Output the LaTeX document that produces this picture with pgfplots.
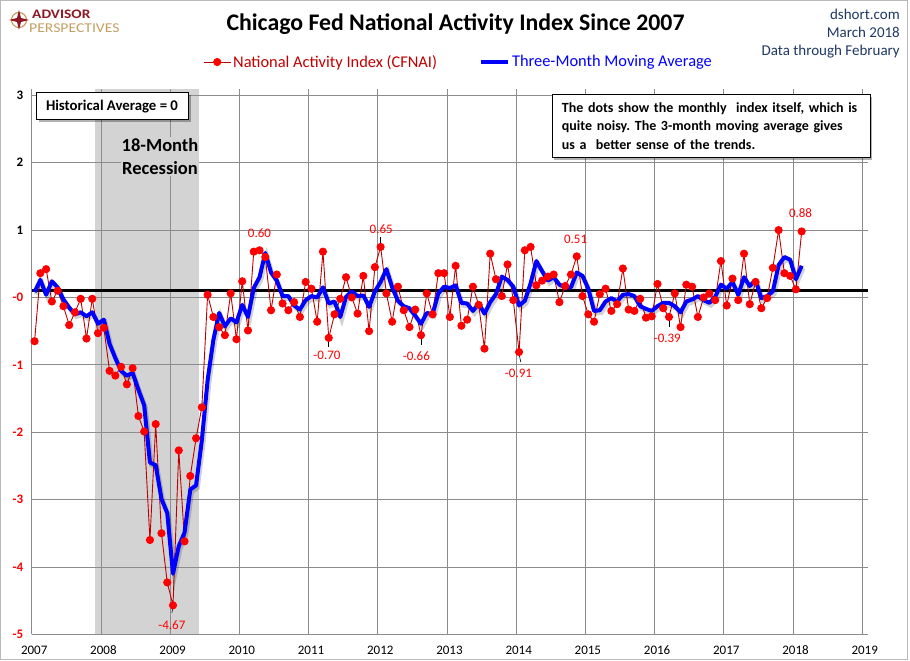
\documentclass[border=0pt]{standalone}
\usepackage{pgfplots}
\pgfplotsset{compat=1.18}
\usepackage{pgfplotstable}
\usepackage{fontspec}
\setmainfont{Carlito}
\usetikzlibrary{shadows}
\frenchspacing
\definecolor{dotred}{RGB}{255,0,0}
\definecolor{linered}{RGB}{192,0,0}
\definecolor{mablue}{RGB}{0,0,255}
\definecolor{recgray}{RGB}{211,211,211}
\definecolor{gridgray}{RGB}{140,140,140}
\definecolor{logored}{RGB}{140,25,35}
\definecolor{logogold}{RGB}{196,160,96}

\pgfplotstableread{
i cfnai ma
0 -0.75 -0.02
1 0.26 0.16
2 0.32 -0.06
3 -0.16 0.14
4 0.00 0.05
5 -0.23 -0.13
6 -0.51 -0.25
7 -0.32 -0.35
8 -0.12 -0.32
9 -0.71 -0.38
10 -0.12 -0.32
11 -0.63 -0.49
12 -0.55 -0.43
13 -1.19 -0.79
14 -1.26 -1.00
15 -1.13 -1.19
16 -1.39 -1.26
17 -1.15 -1.22
18 -1.86 -1.47
19 -2.09 -1.70
20 -3.70 -2.55
21 -1.98 -2.59
22 -3.60 -3.09
23 -4.33 -3.30
24 -4.67 -4.20
25 -2.37 -3.79
26 -3.72 -3.59
27 -2.75 -2.95
28 -2.19 -2.89
29 -1.73 -2.22
30 -0.06 -1.33
31 -0.39 -0.73
32 -0.54 -0.33
33 -0.66 -0.53
34 -0.04 -0.41
35 -0.72 -0.47
36 0.14 -0.21
37 -0.59 -0.39
38 0.58 0.04
39 0.60 0.20
40 0.50 0.56
41 -0.29 0.27
42 0.24 0.15
43 -0.19 -0.08
44 -0.29 -0.08
45 -0.17 -0.22
46 -0.39 -0.28
47 0.13 -0.14
48 0.03 -0.08
49 -0.46 -0.10
50 0.58 0.05
51 -0.70 -0.19
52 -0.35 -0.16
53 -0.12 -0.39
54 0.20 -0.09
55 -0.10 -0.01
56 -0.34 -0.08
57 0.22 -0.07
58 -0.60 -0.24
59 0.35 -0.01
60 0.65 0.13
61 -0.04 0.32
62 -0.46 0.05
63 0.06 -0.15
64 -0.29 -0.23
65 -0.54 -0.26
66 -0.28 -0.37
67 -0.66 -0.49
68 -0.04 -0.33
69 -0.35 -0.35
70 0.26 -0.04
71 0.26 0.06
72 -0.39 0.04
73 0.37 0.08
74 -0.52 -0.18
75 -0.43 -0.19
76 0.06 -0.30
77 -0.21 -0.19
78 -0.86 -0.34
79 0.55 -0.17
80 0.17 -0.05
81 -0.08 0.21
82 0.39 0.16
83 -0.14 0.06
84 -0.91 -0.22
85 0.60 -0.15
86 0.65 0.11
87 0.08 0.44
88 0.15 0.29
89 0.21 0.15
90 0.24 0.20
91 -0.17 0.09
92 0.07 0.05
93 0.24 0.05
94 0.51 0.27
95 -0.08 0.22
96 -0.35 0.03
97 -0.46 -0.30
98 -0.05 -0.29
99 0.03 -0.16
100 -0.30 -0.11
101 -0.20 -0.16
102 0.33 -0.06
103 -0.28 -0.05
104 -0.30 -0.08
105 -0.12 -0.23
106 -0.40 -0.27
107 -0.38 -0.30
108 0.10 -0.23
109 -0.26 -0.18
110 -0.39 -0.18
111 -0.04 -0.23
112 -0.54 -0.32
113 0.09 -0.16
114 0.06 -0.13
115 -0.39 -0.08
116 -0.10 -0.14
117 -0.04 -0.18
118 -0.14 -0.09
119 0.44 0.09
120 -0.22 0.03
121 0.18 0.13
122 -0.14 -0.06
123 0.55 0.20
124 -0.20 0.07
125 0.13 0.16
126 -0.26 -0.11
127 -0.11 -0.08
128 0.34 -0.01
129 0.90 0.38
130 0.26 0.50
131 0.22 0.46
132 0.02 0.17
133 0.88 0.37
}\datatable

\begin{document}
\begin{tikzpicture}
\path (0pt,0pt) rectangle (910pt,661pt);
\draw[gridgray!60, line width=0.8pt] (0.5pt,2pt) rectangle (907.5pt,660.5pt);

% logo
\draw[logogold, line width=1.2pt] (19pt,641pt) circle (7.5pt);
\fill[logored] (19pt,651pt) -- (21pt,643pt) -- (29pt,641pt) -- (21pt,639pt) -- (19pt,631pt) -- (17pt,639pt) -- (9pt,641pt) -- (17pt,643pt) -- cycle;
\node[anchor=base west, inner sep=0pt, xscale=1.18, text=logored, font=\bfseries\fontsize{13}{15}\selectfont] at (32pt,642pt) {ADVISOR};
\node[anchor=base west, inner sep=0pt, xscale=1.16, text=logogold, font=\fontsize{13.5}{15}\selectfont] at (29pt,628pt) {PERSPECTIVES};

% title
\node[anchor=base, inner sep=0pt, font=\bfseries\fontsize{23.8}{28}\selectfont] at (455.5pt,630pt) {Chicago Fed National Activity Index Since 2007};

% top right
\node[anchor=base east, inner sep=0pt, text={rgb,255:red,31;green,56;blue,100}, font=\fontsize{15}{18}\selectfont] at (900pt,641.5pt) {dshort.com};
\node[anchor=base east, inner sep=0pt, text={rgb,255:red,31;green,56;blue,100}, font=\fontsize{15}{18}\selectfont] at (900pt,623.5pt) {March 2018};
\node[anchor=base east, inner sep=0pt, text={rgb,255:red,31;green,56;blue,100}, font=\fontsize{15}{18}\selectfont] at (900pt,605.5pt) {Data through February};

\begin{axis}[
  at={(31.7pt,26.7pt)}, anchor=south west,
  width=836.3pt, height=545.7pt, scale only axis,
  xmin=-0.5, xmax=144.5, ymin=-5.1, ymax=3,
  xtick={-0.5,11.5,23.5,35.5,47.5,59.5,71.5,83.5,95.5,107.5,119.5,131.5,143.5},
  xticklabels={2007,2008,2009,2010,2011,2012,2013,2014,2015,2016,2017,2018,2019},
  ytick={-5.1,-4.1,-3.1,-2.1,-1.1,-0.1,0.9,1.9,2.9},
  yticklabels={{\color{dotred}-5},{\color{dotred}-4},{\color{dotred}-3},{\color{dotred}-2},{\color{dotred}-1},{\color{dotred}-0},1,2,3},
  grid=major, major grid style={gridgray, line width=0.8pt},
  axis lines*=left, axis line style={-, gridgray, line width=0.8pt},
  tick style={draw=none},
  xticklabel style={font=\fontsize{13}{15}\selectfont, yshift=-8pt, xshift=2.5pt},
  yticklabel style={font=\bfseries\fontsize{13}{15}\selectfont, xshift=-5pt},
  clip=false, set layers,
  legend columns=2,
  legend style={at={(0.5104,1.0487)}, anchor=center, draw=none, fill=none,
    font=\fontsize{16.4}{18}\selectfont,
    /tikz/every even column/.append style={column sep=40pt}},
  legend image code/.code={\draw[mark repeat=2,mark phase=2,#1] plot coordinates {(0pt,0pt) (13.5pt,0pt) (27pt,0pt)};},
]
\addplot[fill=recgray, draw=none, on layer=axis background, forget plot] coordinates {(10.5,-5.1) (10.5,3) (28.5,3) (28.5,-5.1)} -- cycle;
\addplot[black, line width=2.8pt, forget plot] coordinates {(-0.5,0) (144.5,0)};

\addplot[linered, line width=0.9pt, mark=*, mark size=3.6pt, mark options={draw=dotred, fill=dotred, solid}] table[x=i, y=cfnai] {\datatable};
\addlegendentry{\textcolor{linered}{National Activity Index (CFNAI)}}
\addplot[black, opacity=0.18, line width=4.5pt, xshift=1.5pt, yshift=-2.5pt, forget plot] table[x=i, y=ma] {\datatable};
\addplot[mablue, line width=4pt, line join=round] table[x=i, y=ma] {\datatable};
\addlegendentry{\textcolor{mablue}{Three-Month Moving Average}}

% data labels
\node[text=dotred, font=\fontsize{13}{15}\selectfont] at (axis cs:39,0.85) {0.60};
\node[text=dotred, font=\fontsize{13}{15}\selectfont] at (axis cs:50.7,-0.96) {-0.70};
\node[text=dotred, font=\fontsize{13}{15}\selectfont] at (axis cs:60.1,0.92) {0.65};
\node[text=dotred, font=\fontsize{13}{15}\selectfont] at (axis cs:66.2,-0.97) {-0.66};
\node[text=dotred, font=\fontsize{13}{15}\selectfont] at (axis cs:83.9,-1.22) {-0.91};
\node[text=dotred, font=\fontsize{13}{15}\selectfont] at (axis cs:93.8,0.77) {0.51};
\node[text=dotred, font=\fontsize{13}{15}\selectfont] at (axis cs:109.7,-0.70) {-0.39};
\node[text=dotred, font=\fontsize{13}{15}\selectfont] at (axis cs:132.8,1.15) {0.88};
\node[text=dotred, font=\fontsize{13}{15}\selectfont] at (axis cs:23.8,-4.96) {-4.67};
% leader lines
\draw[black, line width=0.6pt] (axis cs:60,0.80) -- (axis cs:60,0.68);
\draw[black, line width=0.6pt] (axis cs:51,-0.74) -- (axis cs:51,-0.83);
\draw[black, line width=0.6pt] (axis cs:67,-0.69) -- (axis cs:67,-0.81);
\draw[black, line width=0.6pt] (axis cs:84,-0.94) -- (axis cs:84.3,-1.06);
\draw[black, line width=0.6pt] (axis cs:110,-0.43) -- (axis cs:110,-0.54);
\draw[black, line width=0.6pt] (axis cs:24,-4.70) -- (axis cs:23.8,-4.78);
\end{axis}

% recession label
\node[fill=recgray, inner sep=1pt, align=center, font=\bfseries\fontsize{18.5}{23}\selectfont] at (160pt,504.5pt) {18-Month\\Recession};

% boxes
\node[draw=black, fill=white, line width=0.8pt, minimum width=152pt, minimum height=27pt, inner sep=0pt,
  drop shadow={shadow xshift=2.5pt, shadow yshift=-2.5pt, fill=black, opacity=0.3},
  font=\bfseries\fontsize{14.8}{17}\selectfont] at (112pt,554.7pt) {Historical Average = 0};
\node[draw=black, fill=white, line width=0.8pt, minimum height=63.4pt, text width=298pt, inner xsep=10pt, inner ysep=0pt, align=left,
  drop shadow={shadow xshift=2.5pt, shadow yshift=-2.5pt, fill=black, opacity=0.3},
  font=\bfseries\fontsize{14}{18.3}\selectfont] at (710.9pt,535pt) {The dots show the monthly~ index itself, which is\\quite noisy. The 3-month moving average gives\\us a~ better sense of the trends.};
\end{tikzpicture}
\end{document}
